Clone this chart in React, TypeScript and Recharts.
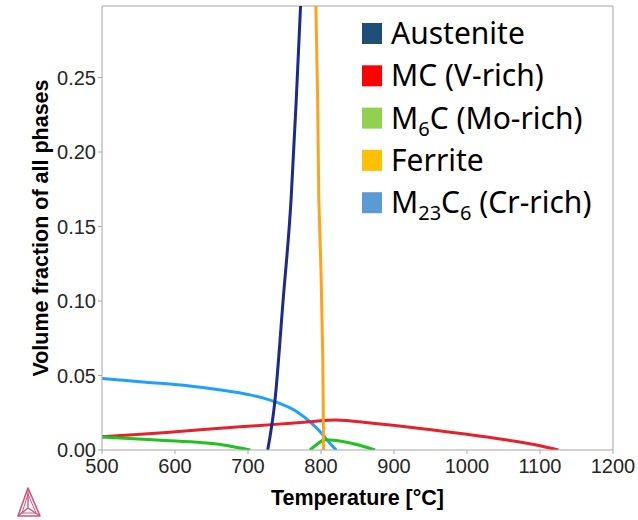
import React from "react";
import { LineChart, Line, XAxis, YAxis, ReferenceLine } from "recharts";

// temperature [°C] / volume fraction readings per phase
const austeniteT = [727, 737, 748, 759, 766, 772, 778];
const austeniteV = [0, 0.0335, 0.1, 0.168, 0.234, 0.298, 0.37];

const ferriteT = [803.5, 802.5, 800, 797, 795.4, 793, 791];
const ferriteV = [0, 0.06, 0.12, 0.168, 0.234, 0.298, 0.37];

const m23c6T = [500, 560, 620, 660, 703, 737, 767, 787, 803, 813, 821];
const m23c6V = [0.048, 0.0455, 0.043, 0.0405, 0.037, 0.0324, 0.0257, 0.018, 0.01, 0.004, 0];

const mcT = [500, 584, 689, 737, 785, 820, 871, 936, 1000, 1050, 1100, 1125];
const mcV = [0.0088, 0.0116, 0.0156, 0.0172, 0.019, 0.0201, 0.0179, 0.0145, 0.0105, 0.007, 0.0028, 0];

const m6cLowT = [500, 575, 666, 703];
const m6cLowV = [0.0088, 0.0067, 0.0034, 0];
const m6cHighT = [785, 795, 805, 840, 874];
const m6cHighV = [0, 0.004, 0.0068, 0.0047, 0];

const xTicks = [500, 600, 700, 800, 900, 1000, 1100, 1200];
const yTicks = [0, 0.05, 0.1, 0.15, 0.2, 0.25];
const yMax = 0.298;

const legendItems = [
  { name: "Austenite", color: "#1f4e79" },
  { name: "MC (V-rich)", color: "#ff0000" },
  { name: "M6C (Mo-rich)", color: "#92d050" },
  { name: "Ferrite", color: "#ffc000" },
  { name: "M23C6 (Cr-rich)", color: "#5b9bd5" },
];

const zip = (ts: number[], vs: number[]) => ts.map((t, i) => ({ t, v: vs[i] }));

const font = "'Liberation Sans', Arial, sans-serif";
const axisGray = "#a6a6a6";

const LegendLabel = ({ name }: { name: string }) => {
  if (name.startsWith("M6C")) {
    return (
      <>
        M<tspan fontSize={20} dy={7}>6</tspan>
        <tspan dy={-7}>C (Mo-rich)</tspan>
      </>
    );
  }
  if (name.startsWith("M23C6")) {
    return (
      <>
        M<tspan fontSize={20} dy={7}>23</tspan>
        <tspan dy={-7}>C</tspan>
        <tspan fontSize={20} dy={7}>6</tspan>
        <tspan dy={-7}> (Cr-rich)</tspan>
      </>
    );
  }
  return <>{name}</>;
};

const PhaseLegend = () => (
  <svg width={250} height={225} style={{ position: "absolute", left: 362, top: 23, overflow: "visible" }}>
    {legendItems.map((item, i) => (
      <g key={item.name} transform={`translate(0, ${i * 42.3})`}>
        <rect x={0} y={0} width={20} height={21} fill={item.color} />
        <text x={29} y={21} fontSize={30} fontFamily="'Noto Sans', 'Open Sans', sans-serif" fill="#000">
          <LegendLabel name={item.name} />
        </text>
      </g>
    ))}
  </svg>
);

// Thermo-Calc mark, bottom left
const Logo = () => (
  <svg width={30} height={34} style={{ position: "absolute", left: 14, top: 485 }}>
    <g fill="none" stroke="#d0547e" strokeLinejoin="round">
      <polygon points="14,3 4,31 26,31" strokeWidth={1.6} />
      <polygon points="14,9 8,28 22,28" strokeWidth={1} />
      <line x1={14} y1={3} x2={14} y2={23} strokeWidth={1.4} />
      <line x1={14} y1={23} x2={4} y2={31} strokeWidth={1.4} />
      <line x1={14} y1={23} x2={26} y2={31} strokeWidth={1.4} />
    </g>
  </svg>
);

export default function App() {
  return (
    <div style={{ position: "absolute", left: 0, top: 0, width: 638, height: 520, background: "#fff" }}>
      <LineChart
        width={638}
        height={520}
        margin={{ top: 6, right: 25, left: 0, bottom: 0 }}
        style={{ fontFamily: font, overflow: "visible" }}
      >
        <XAxis
          type="number"
          dataKey="t"
          domain={[500, 1200]}
          ticks={xTicks}
          allowDataOverflow
          height={70}
          tickSize={4}
          tickMargin={5}
          stroke={axisGray}
          tick={{ fill: "#262626", fontSize: 20 }}
          label={{
            value: "Temperature [°C]",
            position: "insideBottom",
            offset: 15,
            fill: "#000",
            fontSize: 21.5,
            fontWeight: "bold",
          }}
        />
        <YAxis
          type="number"
          dataKey="v"
          domain={[0, yMax]}
          ticks={yTicks}
          allowDataOverflow
          width={102}
          tickSize={4}
          stroke={axisGray}
          tickFormatter={(v: number) => v.toFixed(2)}
          tick={{ fill: "#262626", fontSize: 20 }}
          label={{
            value: "Volume fraction of all phases",
            angle: -90,
            position: "center",
            dx: -11,
            fill: "#000",
            fontSize: 21.5,
            fontWeight: "bold",
          }}
        />
        <ReferenceLine y={yMax} stroke={axisGray} />
        <ReferenceLine x={1200} stroke={axisGray} />
        <Line data={zip(m23c6T, m23c6V)} dataKey="v" type="monotone" stroke="#1ea0ff" strokeWidth={3} dot={false} isAnimationActive={false} />
        <Line data={zip(mcT, mcV)} dataKey="v" type="monotone" stroke="#e3222c" strokeWidth={3} dot={false} isAnimationActive={false} />
        <Line data={zip(m6cLowT, m6cLowV)} dataKey="v" type="monotone" stroke="#1ec31e" strokeWidth={3} dot={false} isAnimationActive={false} />
        <Line data={zip(m6cHighT, m6cHighV)} dataKey="v" type="monotone" stroke="#1ec31e" strokeWidth={3} dot={false} isAnimationActive={false} />
        <Line data={zip(austeniteT, austeniteV)} dataKey="v" type="monotone" stroke="#1c2a8c" strokeWidth={3} dot={false} isAnimationActive={false} />
        <Line data={zip(ferriteT, ferriteV)} dataKey="v" type="linear" stroke="#ffa31a" strokeWidth={3} dot={false} isAnimationActive={false} />
      </LineChart>
      <PhaseLegend />
      <Logo />
    </div>
  );
}
